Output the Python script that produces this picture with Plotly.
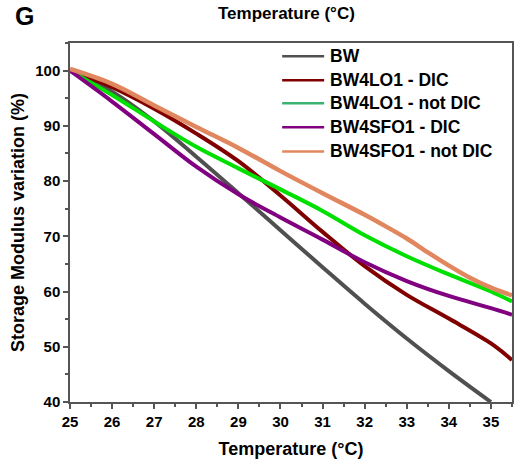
import plotly.graph_objects as go

# Storage modulus retention vs temperature for each formulation
t_bw = [25, 26, 27, 28, 29, 30, 31, 32, 33, 34, 35]
bw = [100, 96.2, 90.8, 84.4, 77.8, 71.1, 64.4, 57.8, 51.5, 45.6, 40.0]

t_lo_dic = [25, 26, 27, 28, 29, 30, 31, 32, 33, 34, 35, 35.5]
lo_dic = [100, 97.0, 93.1, 88.6, 83.6, 77.4, 70.8, 64.6, 59.4, 55.1, 50.6, 47.6]

t_lo_nodic = [25, 26, 27, 28, 29, 30, 31, 32, 33, 34, 35, 35.5]
lo_nodic = [100, 95.6, 90.8, 86.2, 82.3, 78.5, 74.6, 70.2, 66.4, 63.1, 60.0, 58.2]

t_sfo_dic = [25, 26, 27, 28, 29, 30, 31, 32, 33, 34, 35, 35.5]
sfo_dic = [100, 94.4, 88.5, 82.6, 77.6, 73.4, 69.4, 65.3, 61.9, 59.2, 57.0, 55.8]

t_sfo_nodic = [25, 26, 27, 28, 29, 30, 31, 32, 32.5, 33, 33.5, 34, 34.5, 35, 35.5]
sfo_nodic = [100.3, 97.6, 93.7, 89.8, 86.0, 81.8, 77.8, 73.9, 71.8, 69.6, 67.1, 64.7, 62.5, 60.7, 59.3]

names = ["BW", "BW4LO1 - DIC", "BW4LO1 - not DIC", "BW4SFO1 - DIC", "BW4SFO1 - not DIC"]
line_colors = ["#505050", "#800000", "#00e000", "#800080", "#e0875f"]
legend_colors = ["#505050", "#800000", "#3cb371", "#800080", "#e0875f"]
widths = [4, 4, 4, 4, 4.5]

series = [
    (t_bw, bw),
    (t_lo_dic, lo_dic),
    (t_lo_nodic, lo_nodic),
    (t_sfo_dic, sfo_dic),
    (t_sfo_nodic, sfo_nodic),
]

FONT = "Liberation Sans, Arial, sans-serif"

fig = go.Figure()
for (tx, ty), name, col, w in zip(series, names, line_colors, widths):
    fig.add_trace(go.Scatter(
        x=tx, y=ty, name=name, mode="lines",
        line=dict(color=col, width=w, shape="spline", smoothing=1.0),
        showlegend=False, hoverinfo="x+y+name",
    ))

# Hand-placed legend (paper coordinates inside the plot area)
shapes = []
annotations = []
row_y = [0.963, 0.896, 0.832, 0.765, 0.698]
for name, col, yy in zip(names, legend_colors, row_y):
    shapes.append(dict(type="line", xref="paper", yref="paper",
                       x0=0.480, x1=0.575, y0=yy, y1=yy,
                       line=dict(color=col, width=2.5)))
    annotations.append(dict(xref="paper", yref="paper", x=0.584, y=yy,
                            text=name, showarrow=False, xanchor="left", yanchor="middle",
                            font=dict(family=FONT, size=17.5, color="#000000", weight="bold")))

# Panel letter and the top caption
annotations.append(dict(xref="paper", yref="paper", x=-0.13, y=1.075, text="G",
                        showarrow=False, xanchor="left", yanchor="middle",
                        font=dict(family=FONT, size=25, color="#000000", weight="bold")))
annotations.append(dict(xref="paper", yref="paper", x=0.49, y=1.083, text="Temperature (°C)",
                        showarrow=False, xanchor="center", yanchor="middle",
                        font=dict(family=FONT, size=17, color="#000000", weight="bold")))

axis_common = dict(
    showline=True, linecolor="#555555", linewidth=1.5, mirror=True,
    ticks="outside", ticklen=5, tickwidth=1.5, tickcolor="#555555",
    showgrid=False, zeroline=False,
    tickfont=dict(family=FONT, size=15, color="#000000", weight="bold"),
    minor=dict(ticks="outside", ticklen=3, tickwidth=1.5, tickcolor="#555555", showgrid=False),
)

fig.update_layout(
    width=516, height=461,
    margin=dict(l=70, r=2, t=43, b=59),
    paper_bgcolor="white", plot_bgcolor="white",
    showlegend=False,
    shapes=shapes, annotations=annotations,
    xaxis=dict(range=[25, 35.5], dtick=1, tick0=25,
               title=dict(text="Temperature (°C)", standoff=14,
                          font=dict(family=FONT, size=18, color="#000000", weight="bold")),
               **axis_common),
    yaxis=dict(range=[40, 105], dtick=10, tick0=40,
               title=dict(text="Storage Modulus variation (%)", standoff=6,
                          font=dict(family=FONT, size=18, color="#000000", weight="bold")),
               **axis_common),
)
fig.update_xaxes(minor=dict(dtick=0.5))
fig.update_yaxes(minor=dict(dtick=5))

fig.write_html("out.html")
